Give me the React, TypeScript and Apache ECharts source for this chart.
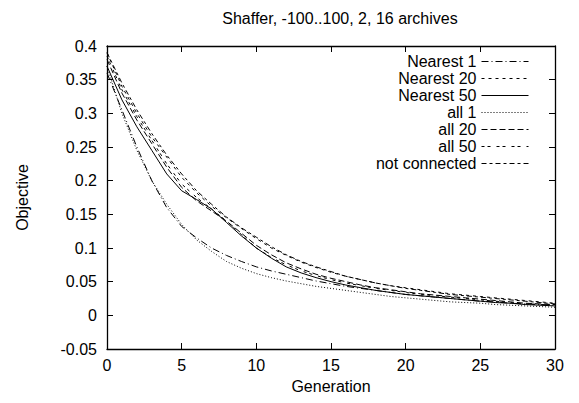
import React, { useEffect, useRef } from "react";
import * as echarts from "echarts";

const generations = Array.from({ length: 31 }, (_, i) => i);

const nearest1 = [0.36, 0.305, 0.25, 0.2, 0.16, 0.132, 0.115, 0.1, 0.089, 0.08, 0.072, 0.066, 0.061, 0.056, 0.051, 0.047, 0.043, 0.04, 0.037, 0.034, 0.031, 0.029, 0.027, 0.025, 0.023, 0.021, 0.02, 0.018, 0.017, 0.016, 0.015];
const nearest20 = [0.39, 0.34, 0.3, 0.265, 0.235, 0.205, 0.182, 0.162, 0.145, 0.129, 0.114, 0.1, 0.089, 0.079, 0.071, 0.064, 0.058, 0.053, 0.048, 0.044, 0.041, 0.038, 0.035, 0.032, 0.03, 0.028, 0.026, 0.024, 0.022, 0.02, 0.018];
const nearest50 = [0.37, 0.32, 0.28, 0.245, 0.21, 0.185, 0.172, 0.158, 0.138, 0.118, 0.1, 0.085, 0.072, 0.063, 0.056, 0.05, 0.045, 0.041, 0.037, 0.034, 0.031, 0.029, 0.027, 0.025, 0.023, 0.021, 0.019, 0.018, 0.016, 0.015, 0.014];
const all1 = [0.37, 0.3, 0.245, 0.2, 0.165, 0.135, 0.112, 0.095, 0.08, 0.07, 0.062, 0.056, 0.051, 0.047, 0.043, 0.04, 0.037, 0.034, 0.031, 0.028, 0.026, 0.024, 0.022, 0.02, 0.019, 0.018, 0.016, 0.015, 0.014, 0.013, 0.012];
const all20 = [0.38, 0.33, 0.29, 0.255, 0.22, 0.19, 0.17, 0.155, 0.14, 0.122, 0.104, 0.09, 0.078, 0.069, 0.061, 0.055, 0.05, 0.045, 0.041, 0.038, 0.035, 0.032, 0.03, 0.028, 0.026, 0.024, 0.022, 0.02, 0.018, 0.017, 0.016];
const all50 = [0.385, 0.335, 0.295, 0.26, 0.225, 0.195, 0.175, 0.158, 0.14, 0.12, 0.1, 0.086, 0.075, 0.066, 0.059, 0.053, 0.048, 0.044, 0.04, 0.037, 0.034, 0.031, 0.029, 0.027, 0.025, 0.023, 0.021, 0.019, 0.017, 0.016, 0.015];
const notConnected = [0.39, 0.345, 0.305, 0.27, 0.238, 0.21, 0.185, 0.165, 0.146, 0.13, 0.116, 0.102, 0.09, 0.08, 0.072, 0.065, 0.058, 0.053, 0.048, 0.044, 0.04, 0.037, 0.034, 0.031, 0.029, 0.027, 0.025, 0.023, 0.021, 0.019, 0.017];

const seriesDefs: { name: string; values: number[]; dash: any }[] = [
  { name: "Nearest 1", values: nearest1, dash: [7, 3, 1, 3] },
  { name: "Nearest 20", values: nearest20, dash: [3, 4] },
  { name: "Nearest 50", values: nearest50, dash: "solid" },
  { name: "all 1", values: all1, dash: [1, 2] },
  { name: "all 20", values: all20, dash: [6, 3] },
  { name: "all 50", values: all50, dash: [3, 3, 3, 6] },
  { name: "not connected", values: notConnected, dash: [5, 3, 3, 3] },
];

const FONT = "'Liberation Sans', Arial, sans-serif";
const FS = 16;

export default function App() {
  const ref = useRef<HTMLDivElement>(null);
  useEffect(() => {
    const chart = echarts.init(ref.current!, null, { renderer: "svg" });
    const fmt = (v: number) => String(parseFloat(v.toFixed(2)));
    const tick = { show: true, inside: true, length: 6, lineStyle: { color: "#000" } };
    const axisLine = { show: true, onZero: false, lineStyle: { color: "#000", width: 1.3 } };
    chart.setOption({
      animation: false,
      backgroundColor: "#fff",
      textStyle: { fontFamily: FONT },
      title: {
        text: "Shaffer, -100..100, 2, 16 archives",
        left: 335,
        top: 5,
        textAlign: "center",
        textStyle: { fontFamily: FONT, fontSize: FS, fontWeight: "normal", color: "#000" },
      },
      legend: {
        orient: "vertical",
        align: "right",
        right: 45,
        top: 48,
        itemWidth: 47,
        itemHeight: 12,
        itemGap: 0,
        itemStyle: { opacity: 0 },
        lineStyle: { width: 1 },
        textStyle: { fontFamily: FONT, fontSize: FS, color: "#000", lineHeight: 17 },
        data: seriesDefs.map((s) => ({ name: s.name })),
      },
      grid: { left: 107, right: 24, top: 46, bottom: 54 },
      xAxis: [
        {
          type: "value",
          min: 0,
          max: 30,
          interval: 5,
          name: "Generation",
          nameLocation: "middle",
          nameGap: 29,
          nameTextStyle: { fontFamily: FONT, fontSize: FS, color: "#000" },
          axisLine,
          axisTick: tick,
          axisLabel: { color: "#000", fontFamily: FONT, fontSize: FS, margin: 8 },
          splitLine: { show: false },
        },
        {
          type: "value",
          position: "top",
          min: 0,
          max: 30,
          interval: 5,
          axisLine,
          axisTick: tick,
          axisLabel: { show: false },
          splitLine: { show: false },
        },
      ],
      yAxis: [
        {
          type: "value",
          min: -0.05,
          max: 0.4,
          interval: 0.05,
          name: "Objective",
          nameLocation: "middle",
          nameGap: 77,
          nameTextStyle: { fontFamily: FONT, fontSize: FS, color: "#000" },
          axisLine,
          axisTick: tick,
          axisLabel: { color: "#000", fontFamily: FONT, fontSize: FS, margin: 10, formatter: fmt },
          splitLine: { show: false },
        },
        {
          type: "value",
          position: "right",
          min: -0.05,
          max: 0.4,
          interval: 0.05,
          axisLine,
          axisTick: tick,
          axisLabel: { show: false },
          splitLine: { show: false },
        },
      ],
      series: seriesDefs.map((s) => ({
        name: s.name,
        type: "line",
        xAxisIndex: 0,
        yAxisIndex: 0,
        symbol: "none",
        smooth: false,
        color: "#000",
        lineStyle: { color: "#000", width: 1, type: s.dash },
        data: generations.map((g, i) => [g, s.values[i]]),
      })),
    });
    return () => chart.dispose();
  }, []);
  return (
    <div
      ref={ref}
      style={{ position: "absolute", left: 0, top: 0, width: 579, height: 403 }}
    />
  );
}
